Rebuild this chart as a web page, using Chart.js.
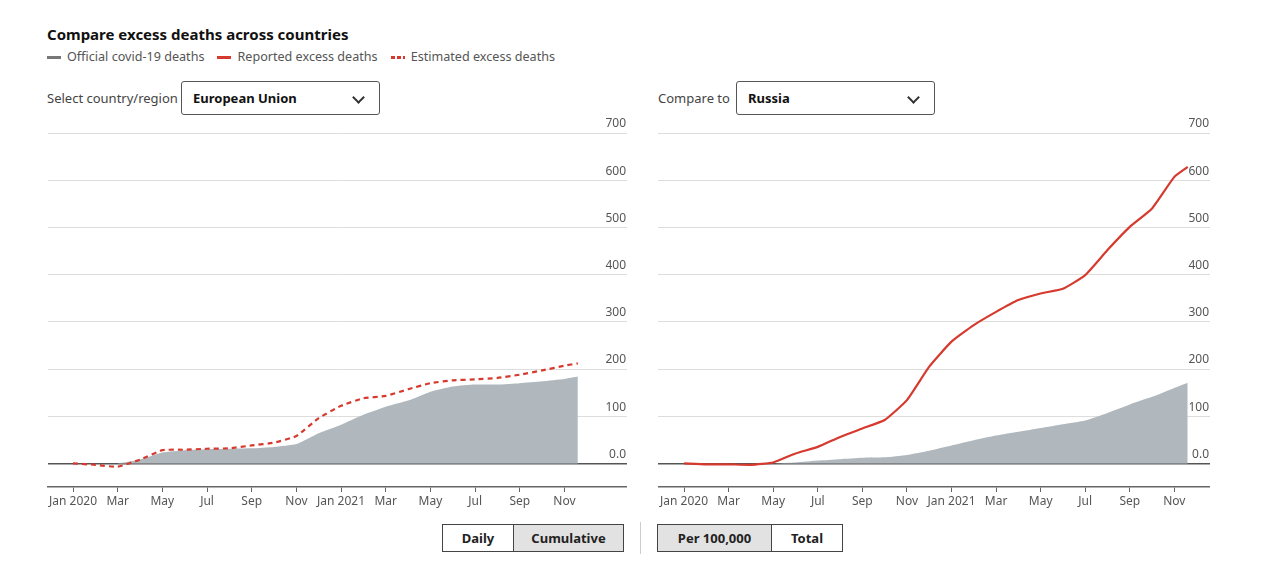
<!DOCTYPE html>
<html>
<head>
<meta charset="utf-8">
<script src="https://cdn.jsdelivr.net/npm/chart.js@4"></script>
<style>
  body { margin: 0; width: 1280px; height: 587px; background: #fff; font-family: "Noto Sans", sans-serif; color: #333; position: relative; overflow: hidden; }
  .abs { position: absolute; }
  .title { left: 47px; top: 24px; font-size: 15px; font-weight: bold; color: #111; }
  .legend { left: 47px; top: 48px; font-size: 12.6px; color: #555; display: flex; gap: 13px; }
  .legend span.sw { display: inline-block; width: 14px; height: 3px; vertical-align: middle; margin-right: 6px; }
  .lbl { font-size: 13px; color: #444; }
  .sel { border: 1px solid #555; border-radius: 3px; height: 34px; font-size: 13px; font-weight: bold; color: #111; box-sizing: border-box; padding: 7px 11px; }
  .chev { position: absolute; right: 16px; top: 11px; width: 7px; height: 7px; border-right: 2px solid #333; border-bottom: 2px solid #333; transform: rotate(45deg); }
  .btns { display: flex; border: 1px solid #444; height: 28px; box-sizing: border-box; font-size: 13px; font-weight: bold; color: #222; }
  .btns div { display: flex; align-items: center; justify-content: center; }
  .on { background: #e2e2e2; }
</style>
</head>
<body>
<div class="abs title">Compare excess deaths across countries</div>
<div class="abs legend">
  <div><span class="sw" style="background:#777"></span>Official covid-19 deaths</div>
  <div><span class="sw" style="background:#d63a2f"></span>Reported excess deaths</div>
  <div><span class="sw" style="background:repeating-linear-gradient(90deg,#d63a2f 0 4px,transparent 4px 6px)"></span>Estimated excess deaths</div>
</div>
<div class="abs lbl" style="left:47px;top:89px">Select country/region</div>
<div class="abs sel" style="left:181px;top:81px;width:199px">European Union<span class="chev"></span></div>
<div class="abs lbl" style="left:658px;top:89px">Compare to</div>
<div class="abs sel" style="left:736px;top:81px;width:199px">Russia<span class="chev"></span></div>

<div class="abs" style="left:47px;top:110px;width:580px;height:400px"><canvas id="c1"></canvas></div>
<div class="abs" style="left:658px;top:110px;width:552px;height:400px"><canvas id="c2"></canvas></div>

<div class="abs btns" style="left:442px;top:524px;width:182px">
  <div style="width:70px;border-right:1px solid #444">Daily</div><div class="on" style="flex:1">Cumulative</div>
</div>
<div class="abs" style="left:640px;top:522px;width:1px;height:32px;background:#ccc"></div>
<div class="abs btns" style="left:657px;top:524px;width:186px">
  <div class="on" style="width:113px;border-right:1px solid #444">Per 100,000</div><div style="flex:1">Total</div>
</div>

<script>
// months since Jan 2020
const months = [0,1,2,3,4,5,6,7,8,9,10,11,12,13,14,15,16,17,18,19,20,21,22,22.6];
const tickMonths = [0,2,4,6,8,10,12,14,16,18,20,22];
const tickLabels = ['Jan 2020','Mar','May','Jul','Sep','Nov','Jan 2021','Mar','May','Jul','Sep','Nov'];
const yTicks = [0,100,200,300,400,500,600,700];

const euOfficial = [0,0,0,8,23,28,30,31,32,35,41,64,82,103,120,133,152,163,167,167,170,174,179,184];
const euEstimated = [0,-3,-7,8,28,29,31,32,38,44,58,96,122,138,143,157,170,176,178,181,188,197,207,212];
const ruOfficial = [0,0,0,0,0,2,6,9,12,13,18,27,38,49,59,67,75,83,91,107,125,141,160,171];
const ruReported = [0,-2,-2,-3,2,21,35,56,74,92,134,205,258,293,321,346,360,370,399,452,501,540,607,628];

const RED = '#d63a2f';
const GREY_FILL = '#b0b8bd';

const yLabels = {
  id: 'yLabels',
  afterDraw(chart) {
    const ctx = chart.ctx, y = chart.scales.y, area = chart.chartArea;
    ctx.save();
    ctx.font = '12px "Noto Sans"';
    ctx.fillStyle = '#555';
    ctx.textAlign = 'right';
    ctx.textBaseline = 'bottom';
    yTicks.forEach(v => ctx.fillText(v === 0 ? '0.0' : String(v), area.right - 1, y.getPixelForValue(v) - 3));
    ctx.restore();
  }
};

function pts(vals) { return vals.map((v, i) => ({ x: months[i], y: v })); }

function makeChart(id, datasets, xmin, xmax) {
  return new Chart(document.getElementById(id), {
    type: 'line',
    data: { datasets },
    plugins: [yLabels],
    options: {
      responsive: true,
      maintainAspectRatio: false,
      animation: false,
      layout: { padding: { top: 23, left: 0, right: 0, bottom: 0 } },
      plugins: { legend: { display: false }, tooltip: { enabled: false } },
      elements: { point: { radius: 0 }, line: { tension: 0.15 } },
      scales: {
        x: {
          type: 'linear', min: xmin, max: xmax,
          afterBuildTicks: s => { s.ticks = tickMonths.map(v => ({ value: v })); },
          afterFit: s => { s.height = 23; },
          ticks: {
            autoSkip: false, maxRotation: 0, padding: 2,
            color: '#555', font: { family: 'Noto Sans', size: 12 },
            callback: (v, i) => tickLabels[i]
          },
          grid: { drawOnChartArea: false, drawTicks: true, tickLength: 5, color: '#666' },
          border: { color: '#666', width: 1.5 }
        },
        y: {
          min: -50, max: 700,
          afterBuildTicks: s => { s.ticks = yTicks.map(v => ({ value: v })); },
          afterFit: s => { s.width = 0; },
          ticks: { display: false },
          grid: {
            drawTicks: false,
            color: c => c.tick.value === 0 ? '#555' : '#ddd',
            lineWidth: c => c.tick.value === 0 ? 1.5 : 1
          },
          border: { display: false }
        }
      }
    }
  });
}

makeChart('c1', [
  { data: pts(euEstimated), borderColor: RED, borderWidth: 2.2, borderDash: [5, 4], fill: false },
  { data: pts(euOfficial), borderColor: 'rgba(0,0,0,0)', borderWidth: 0, backgroundColor: GREY_FILL, fill: 'origin' }
], -1.12, 24.8);

makeChart('c2', [
  { data: pts(ruReported), borderColor: RED, borderWidth: 2.2, fill: false },
  { data: pts(ruOfficial), borderColor: 'rgba(0,0,0,0)', borderWidth: 0, backgroundColor: GREY_FILL, fill: 'origin' }
], -1.17, 23.6);
</script>
</body>
</html>
